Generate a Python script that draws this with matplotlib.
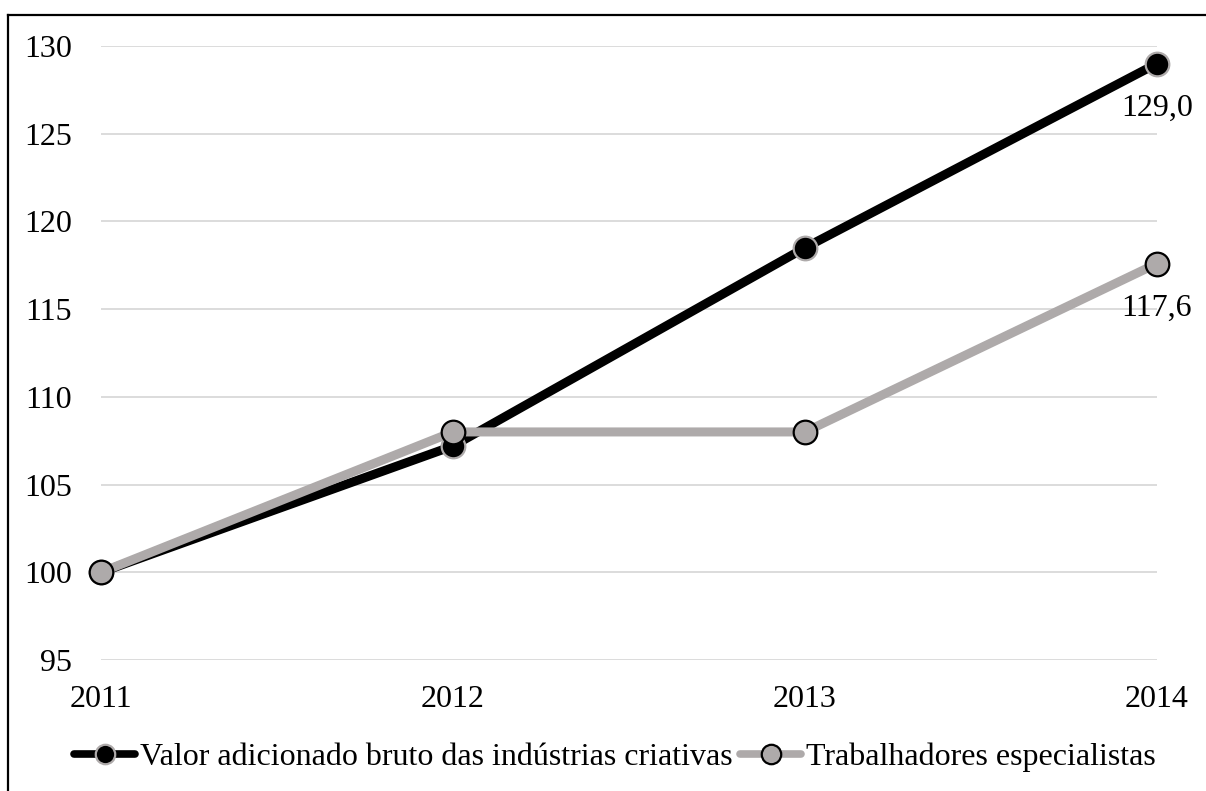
import matplotlib
matplotlib.use('Agg')
import matplotlib.pyplot as plt
from matplotlib.lines import Line2D

# Series data ==================================================================
years=['2011','2012','2013','2014']
vab_criativas=[100.0,107.2,118.5,129.0]
trab_especialistas=[100.0,108.0,108.0,117.6]
serie_nomes=['Valor adicionado bruto das indústrias criativas','Trabalhadores especialistas']
y_ticks=[95,100,105,110,115,120,125,130]

plt.rcParams['font.family']=['Liberation Serif','DejaVu Serif']
fsize=23

black='#000000'
gray='#AEAAAA'
grid_col='#D9D9D9'

fig=plt.figure(figsize=(12.06,7.91),dpi=100)
W,H=1206,791
ax=fig.add_axes([101/W,(H-660)/H,(1157-101)/W,(660-46)/H])

x=list(range(len(years)))
line_kw=dict(lw=6.5,ms=17,mew=1.6,solid_capstyle='butt',clip_on=False)
ax.plot(x,vab_criativas,'-o',color=black,mfc=black,mec=gray,zorder=3,**line_kw)
ax.plot(x,trab_especialistas,'-o',color=gray,mfc=gray,mec=black,zorder=4,**line_kw)

# value labels on last point
for vals in (vab_criativas,trab_especialistas):
    ax.annotate(f'{vals[-1]:.1f}'.replace('.',','),(x[-1],vals[-1]),
        xytext=(0,-32),textcoords='offset points',ha='center',va='center',
        fontsize=fsize,zorder=5)

ax.set_xlim(0,len(years)-1)
ax.set_ylim(95,130)
ax.set_yticks(y_ticks)
ax.set_xticks(x)
ax.set_xticklabels(years)
ax.tick_params(axis='both',length=0,labelsize=fsize)
ax.tick_params(axis='y',pad=21)
ax.tick_params(axis='x',pad=18)
ax.grid(axis='y',color=grid_col,lw=1.3)
ax.set_axisbelow(True)
for sp in ax.spines.values():
    sp.set_visible(False)

# legend
handles=[Line2D([],[],color=black,lw=5.5,marker='o',ms=14,mfc=black,mec=gray,mew=1.6,solid_capstyle='round'),
         Line2D([],[],color=gray,lw=5.5,marker='o',ms=14,mfc=gray,mec=black,mew=1.6,solid_capstyle='round')]
fig.legend(handles,serie_nomes,loc='center',bbox_to_anchor=(615/W,(H-757)/H),ncol=2,
    frameon=False,fontsize=fsize,handlelength=1.9,handletextpad=0.15,columnspacing=0.25,
    numpoints=1,borderaxespad=0,borderpad=0)

# outer chart frame (left and top edges)
fig.add_artist(Line2D([8/W,8/W],[0,(H-15)/H],color='black',lw=1.6,transform=fig.transFigure))
fig.add_artist(Line2D([8/W,1],[(H-15)/H,(H-15)/H],color='black',lw=1.6,transform=fig.transFigure))

fig.savefig('out.png',dpi=100)
